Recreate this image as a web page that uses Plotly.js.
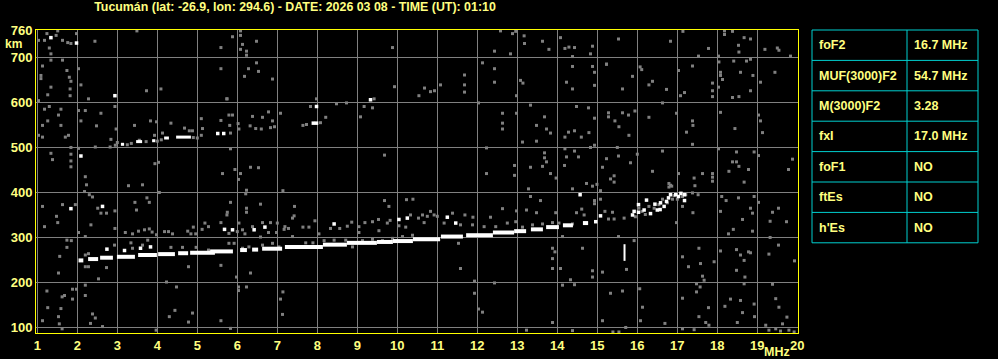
<!DOCTYPE html>
<html>
<head>
<meta charset="utf-8">
<script src="https://cdn.plot.ly/plotly-3.0.1.min.js"></script>
<style>html,body{margin:0;padding:0;background:#000;}#chart{width:998px;height:359px;}</style>
</head>
<body>
<div id="chart"></div>
<script>
// ---- Data ----
const titleText = "Tucumán (lat: -26.9, lon: 294.6) - DATE: 2026 03 08 - TIME (UT): 01:10";
const freqTicks = [1,2,3,4,5,6,7,8,9,10,11,12,13,14,15,16,17,18,19,20];
const heightTicks = [100,200,300,400,500,600,700,760];

const paramNames = ["foF2","MUF(3000)F2","M(3000)F2","fxI","foF1","ftEs","h'Es"];
const paramValues = ["16.7 MHz","54.7 MHz","3.28","17.0 MHz","NO","NO","NO"];

// main F-trace (white), segments separated by null
const mainF = [2.03,2.15,null,2.27,2.52,null,2.57,2.89,null,2.99,3.44,null,3.52,3.99,null,4.02,4.44,null,4.52,4.77,null,4.82,5.44,null,5.32,5.89,null,6.07,6.24,null,6.37,6.52,null,6.62,7.12,null,7.19,8.14,null,8.14,8.74,null,8.74,9.49,null,9.49,9.89,null,9.89,10.39,null,10.39,11.07,null,11.09,11.64,null,11.72,12.39,null,12.39,12.92,null,12.92,13.22,null,13.34,13.64,null,13.72,14.04,null,14.14,14.39,null,14.64,14.77];
const mainH = [248,248,null,251,251,null,254,254,null,256,256,null,260,260,null,262,262,null,264,264,null,265,265,null,268,268,null,271,271,null,272,272,null,274,274,null,278,278,null,283,283,null,287,287,null,289,289,null,291,291,null,295,295,null,301,301,null,304,304,null,310,310,null,313,313,null,317,317,null,322,322,null,326,326,null,331,331];

// second-hop echo (white)
const upperF = [3.09,3.17,null,3.47,3.62,null,3.87,3.95,null,4.17,4.29,null,4.47,4.84];
const upperH = [506,506,null,512,512,null,514,514,null,520,520,null,522,522];

// vertical white mark
const barF = [15.68,15.68];
const barH = [247,284];

// scattered white echoes
const whiteF = [1.34,1.98,2.94,2.09,1.84,2.63,2.74,3.18,3.58,3.83,5.51,5.66,5.68,7.98,9.33,7.90,7.98,10.25,10.04,8.42,6.69,6.42,5.88,11.25,11.46,14.57,15.08,14.96,
  15.88,15.92,16.03,16.03,16.17,16.23,16.33,16.44,16.50,16.58,16.67,16.73,16.78,16.83,16.96,17.03,17.18,17.18,16.57,17.09];
const whiteH = [743,731,614,480,363,368,273,270,275,278,530,530,317,590,605,553,553,342,339,329,322,316,316,344,331,394,347,334,
  349,357,355,372,360,382,352,373,360,376,368,379,387,394,394,390,394,381,361,397];

// grey noise / weak echoes
const noiseF = [
1.51,1.24,1.47,1.18,1.63,1.76,1.84,1.98,2.44,1.03,1.30,1.34,5.59,3.49,
1.34,1.63,1.13,1.09,1.09,1.74,1.80,1.84,1.34,1.82,1.82,1.26,2.03,2.09,2.28,3.73,4.09,5.59,1.03,5.74,
1.30,1.18,1.59,2.03,2.20,2.59,2.94,1.53,1.26,2.09,2.48,3.43,1.13,1.59,3.83,3.98,4.34,5.10,5.59,4.68,4.80,4.88,5.13,1.03,1.13,1.70,1.78,2.97,4.13,5.10,2.84,3.93,1.84,2.03,2.45,2.82,
1.34,1.38,1.84,1.84,1.84,2.20,2.23,2.18,2.30,2.38,4.03,3.94,5.63,3.28,3.63,4.05,
1.13,1.63,1.95,2.51,2.59,2.73,2.94,1.48,1.51,1.18,2.34,2.03,2.20,3.44,3.48,3.74,3.80,2.94,3.20,3.38,3.53,3.68,3.80,3.87,3.98,4.18,4.28,4.38,4.76,4.84,4.90,5.12,5.19,5.74,5.59,5.28,4.96,
1.74,1.85,1.74,1.56,2.93,3.34,3.38,3.63,3.76,4.34,4.63,4.97,5.28,2.20,2.28,2.20,2.28,2.73,4.78,1.53,2.53,4.23,5.59,
2.20,1.88,1.98,1.24,1.68,1.62,1.88,2.20,4.48,1.26,1.59,1.53,1.13,1.55,2.33,2.38,2.45,2.63,4.44,4.30,4.88,5.59,4.78,1.62,3.97,
3.00,3.25,3.35,3.55,3.72,4.00,4.10,4.90,5.00,2.95,
5.88,6.08,6.08,6.13,6.08,6.23,6.23,6.48,9.88,6.48,6.28,6.53,6.18,6.88,9.93,5.74,7.98,7.83,8.48,8.73,9.42,9.17,9.38,9.08,5.79,5.88,6.38,6.78,7.08,6.63,6.88,5.81,6.02,6.04,6.32,6.46,6.60,6.83,6.93,7.73,8.08,8.21,7.64,5.83,5.83,9.68,5.94,6.08,6.33,6.53,6.03,6.23,6.21,7.14,5.83,5.75,6.23,6.23,6.58,7.43,7.42,7.38,9.68,9.79,10.23,10.39,10.33,9.82,9.75,9.53,9.38,9.19,9.04,8.86,8.75,8.56,8.33,7.94,7.79,7.64,7.28,7.19,7.00,6.83,6.63,6.38,6.13,6.04,6.19,6.00,5.79,6.58,6.78,6.98,7.17,7.38,8.04,9.04,9.54,10.04,10.21,
5.79,5.92,6.13,6.29,6.63,6.88,7.04,7.71,7.89,8.17,8.42,8.71,8.88,9.13,9.38,9.63,9.88,10.13,10.38,
5.98,6.03,6.03,6.23,6.33,7.14,7.08,7.13,5.83,
12.58,12.88,12.96,13.17,13.18,13.63,13.79,14.08,14.19,14.29,14.43,14.38,14.83,14.88,12.43,12.83,12.13,12.43,14.38,14.88,14.93,15.23,11.68,11.68,11.68,11.08,12.43,13.08,13.14,14.23,14.38,14.93,12.98,10.54,10.68,10.83,10.93,12.03,13.33,14.48,14.78,14.93,12.63,12.98,13.68,12.63,13.48,13.73,13.83,12.63,14.19,14.28,14.43,14.60,14.79,14.93,14.83,13.13,13.48,12.23,13.68,13.68,13.63,13.73,12.93,12.93,13.33,13.83,12.23,14.19,14.23,14.53,14.43,14.18,15.23,15.13,13.97,14.38,14.73,14.88,14.99,15.08,13.28,13.33,13.58,12.63,13.23,12.98,13.48,13.96,14.48,14.61,14.67,14.93,14.93,15.08,15.19,12.33,11.89,11.69,11.38,
10.53,10.63,10.75,10.83,10.92,10.67,11.00,11.17,11.58,11.88,12.17,12.46,12.75,12.96,13.13,13.38,13.63,13.88,14.04,14.38,
14.13,13.88,13.94,13.88,13.88,14.08,14.63,14.88,14.88,15.13,11.58,11.93,12.43,14.33,14.13,14.43,11.93,12.03,12.13,13.88,14.38,13.23,15.13,11.53,
15.53,16.83,17.14,18.18,18.18,18.38,18.53,18.67,18.83,18.54,19.19,19.50,19.54,19.83,17.78,17.53,18.03,18.41,18.73,18.83,15.23,16.07,16.11,15.88,15.63,16.29,16.38,16.73,17.08,17.18,17.38,17.03,18.04,18.08,18.08,18.13,17.88,17.88,17.88,18.03,18.38,18.54,18.58,18.83,18.89,19.08,19.44,15.28,15.28,15.63,15.78,15.94,15.44,15.54,15.79,16.29,16.63,16.98,17.38,17.39,17.23,17.38,18.44,18.08,19.08,19.13,19.03,15.50,15.53,15.83,16.00,16.63,16.38,17.03,17.63,17.42,17.44,17.88,17.88,17.88,18.03,18.38,18.48,18.54,18.29,18.48,18.78,18.67,18.92,19.03,19.78,19.88,15.33,15.42,15.42,16.79,16.86,17.38,17.52,17.21,17.39,17.13,18.11,18.22,18.08,18.53,18.92,18.83,18.88,19.03,19.38,19.53,19.32,19.73,18.63,18.40,18.28,18.88,19.32,16.98,15.38,15.28,15.42,15.67,15.53,15.92,15.73,17.54,17.13,17.28,17.58,17.63,17.67,17.92,17.48,18.08,18.48,18.58,18.67,18.83,18.78,18.48,18.69,19.29,19.53,19.93,19.38,19.46,19.54,19.63,19.74,15.33,15.63,16.06,16.13,16.08,16.69,17.13,17.48,17.57,17.78,18.19,18.33,18.58,18.67,18.63,18.92,18.93,18.50,17.71,17.79,17.42,17.54,17.13,19.21,19.29,19.46,19.58,19.79,19.92,15.39,15.54,15.71,
16.04,16.12,16.29,16.42,16.54,16.63,16.75,16.88,16.92,16.79,16.83,17.00,17.13,15.95,16.20
];
const noiseH = [
758,752,748,737,737,732,730,752,735,737,720,707,721,758,
693,693,680,652,659,670,655,646,633,629,614,616,674,638,607,625,629,674,603,607,
590,584,584,581,581,575,590,571,558,558,547,548,548,548,558,556,553,563,559,542,536,536,541,526,522,522,526,540,531,526,517,526,499,497,500,500,
486,472,484,469,456,434,416,401,394,389,466,463,441,414,416,399,
368,372,372,364,353,353,358,346,332,323,327,310,301,377,360,387,377,319,310,307,313,316,318,311,305,312,312,307,313,307,322,317,331,349,332,323,307,
293,292,277,257,282,287,275,282,293,277,277,277,271,260,263,234,234,232,234,220,207,200,237,
193,184,184,180,170,167,162,170,189,143,141,123,114,107,108,129,120,101,137,123,131,114,111,96,93,
510,505,508,515,512,513,516,521,520,504,
745,758,748,728,717,713,704,735,721,687,674,668,657,651,634,607,607,590,596,598,607,590,587,567,571,571,568,578,575,566,558,548,552,540,547,541,540,543,545,550,554,566,548,531,496,482,450,441,455,454,428,404,396,403,377,355,364,355,373,368,347,342,381,368,383,384,349,337,331,339,334,332,323,333,324,319,319,336,322,322,319,323,331,332,332,323,316,331,307,312,308,300,310,310,317,301,307,310,314,325,322,
286,286,275,278,282,286,278,287,287,292,293,293,278,292,295,292,297,301,304,
211,189,181,189,220,178,162,128,97,
758,752,757,747,730,735,717,743,719,722,721,701,707,724,713,707,687,674,679,679,666,684,660,638,622,638,644,648,642,644,629,637,614,614,631,623,625,598,593,590,587,564,575,575,567,553,548,540,531,540,522,533,536,522,532,504,499,511,513,498,476,487,457,467,459,437,455,441,441,496,478,478,491,459,474,455,431,407,419,413,417,403,407,390,381,363,360,358,354,354,354,362,349,381,374,384,357,344,344,349,353,
342,349,346,357,349,332,346,331,327,327,323,323,331,334,322,327,329,332,331,329,
301,275,267,252,230,230,275,225,211,222,230,202,198,205,193,194,175,140,133,110,92,93,114,286,
740,735,757,758,750,757,726,743,740,711,717,720,715,702,719,702,702,691,691,695,684,678,672,657,629,638,646,628,614,621,680,670,689,659,666,650,642,625,612,633,610,612,666,625,659,644,666,567,576,576,571,580,558,545,526,566,598,575,558,548,533,506,541,577,558,532,571,499,480,465,484,491,446,441,441,431,414,424,433,441,496,467,467,457,446,489,450,422,489,481,450,473,429,436,422,419,413,398,394,394,354,368,390,381,357,387,390,364,353,377,355,364,335,334,339,317,307,313,299,332,355,340,340,342,301,292,228,275,256,234,241,213,204,245,196,269,272,260,248,265,267,226,211,262,282,247,195,163,144,107,122,175,180,185,144,114,108,164,178,189,143,146,162,159,196,132,151,123,110,110,104,94,123,96,104,93,96,91,93,89,89,89,99,
364,357,368,364,372,384,376,384,392,411,415,384,390,345,350
];

// ---- Styling ----
const W = 998, H = 359;
const mL = 36, mT = 30, mB = 26;
const plotRight = 798;
const paperW = W - mL;
const paperH = H - mT - mB;
const LY = '#ffff80';
const CY = '#00d0d0';
const FONT = 'Liberation Sans, Arial, sans-serif';
const px2x = p => (p - mL) / paperW;
const py2y = p => (H - mB - p) / paperH;

const traces = [
  {type:'scatter', mode:'markers', x:noiseF, y:noiseH, hoverinfo:'skip',
   marker:{symbol:'square', size:3, color:'#808080', line:{width:0}}},
  {type:'scatter', mode:'lines', x:mainF, y:mainH, hoverinfo:'skip', connectgaps:false,
   line:{color:'#ffffff', width:4}},
  {type:'scatter', mode:'lines', x:upperF, y:upperH, hoverinfo:'skip', connectgaps:false,
   line:{color:'#ffffff', width:3}},
  {type:'scatter', mode:'lines', x:barF, y:barH, hoverinfo:'skip',
   line:{color:'#ffffff', width:2}},
  {type:'scatter', mode:'markers', x:whiteF, y:whiteH, hoverinfo:'skip',
   marker:{symbol:'square', size:3.5, color:'#ffffff', line:{width:0}}}
];

// ---- parameter table (shapes + annotations built from the arrays) ----
const tblL = 812, tblR = 978, tblDiv = 907, tblTop = 30, rowH = 30.4;
const nRows = paramNames.length;
const shapes = [];
const annotations = [];
shapes.push({type:'rect', xref:'paper', yref:'paper', x0:px2x(tblL), x1:px2x(tblR),
  y0:py2y(tblTop), y1:py2y(tblTop + nRows*rowH), line:{color:CY, width:1}, fillcolor:'rgba(0,0,0,0)'});
shapes.push({type:'line', xref:'paper', yref:'paper', x0:px2x(tblDiv), x1:px2x(tblDiv),
  y0:py2y(tblTop), y1:py2y(tblTop + nRows*rowH), line:{color:CY, width:1}});
for (let i = 1; i < nRows; i++) {
  shapes.push({type:'line', xref:'paper', yref:'paper', x0:px2x(tblL), x1:px2x(tblR),
    y0:py2y(tblTop + i*rowH), y1:py2y(tblTop + i*rowH), line:{color:CY, width:1}});
}
const cellFont = {family:FONT, size:12.5, color:LY, weight:'bold'};
paramNames.forEach((name, i) => {
  const yc = py2y(tblTop + (i + 0.5)*rowH);
  annotations.push({text:name, xref:'paper', yref:'paper', x:px2x(tblL + 5), y:yc,
    xanchor:'left', yanchor:'middle', showarrow:false, font:cellFont});
  annotations.push({text:paramValues[i], xref:'paper', yref:'paper', x:px2x(tblDiv + 5), y:yc,
    xanchor:'left', yanchor:'middle', showarrow:false, font:cellFont});
});
annotations.push({text:'km', xref:'paper', yref:'paper', x:px2x(13), y:py2y(44), xanchor:'center', yanchor:'middle',
  showarrow:false, font:{family:FONT, size:12, color:LY, weight:'bold'}});
annotations.push({text:'MHz', xref:'paper', yref:'paper', x:px2x(777), y:py2y(352), xanchor:'center', yanchor:'middle',
  showarrow:false, font:{family:FONT, size:12.5, color:LY, weight:'bold'}});

const tickFont = {family:FONT, size:13, color:LY, weight:'bold'};
const layout = {
  width:W, height:H,
  paper_bgcolor:'#000', plot_bgcolor:'#000',
  margin:{l:mL, r:0, t:mT, b:mB, pad:0},
  showlegend:false,
  title:{text:titleText, font:{family:FONT, size:12.4, color:LY, weight:'bold'},
    xref:'container', x:295/W, xanchor:'center', yref:'container', y:1-7/H, yanchor:'middle'},
  xaxis:{domain:[0, (plotRight - mL)/paperW], range:[0.967, 20.017],
    tickvals:freqTicks, ticks:'', showgrid:true, gridcolor:'#808080', gridwidth:1,
    zeroline:false, showline:true, mirror:true, linecolor:'#ffff00', linewidth:1,
    tickfont:tickFont, fixedrange:true},
  yaxis:{range:[86.7, 760], tickvals:heightTicks, ticks:'', showgrid:true, gridcolor:'#808080', gridwidth:1,
    zeroline:false, showline:true, mirror:true, linecolor:'#ffff00', linewidth:1,
    tickfont:tickFont, fixedrange:true},
  shapes:shapes,
  annotations:annotations
};

Plotly.newPlot('chart', traces, layout, {displayModeBar:false, staticPlot:true});
</script>
</body>
</html>
